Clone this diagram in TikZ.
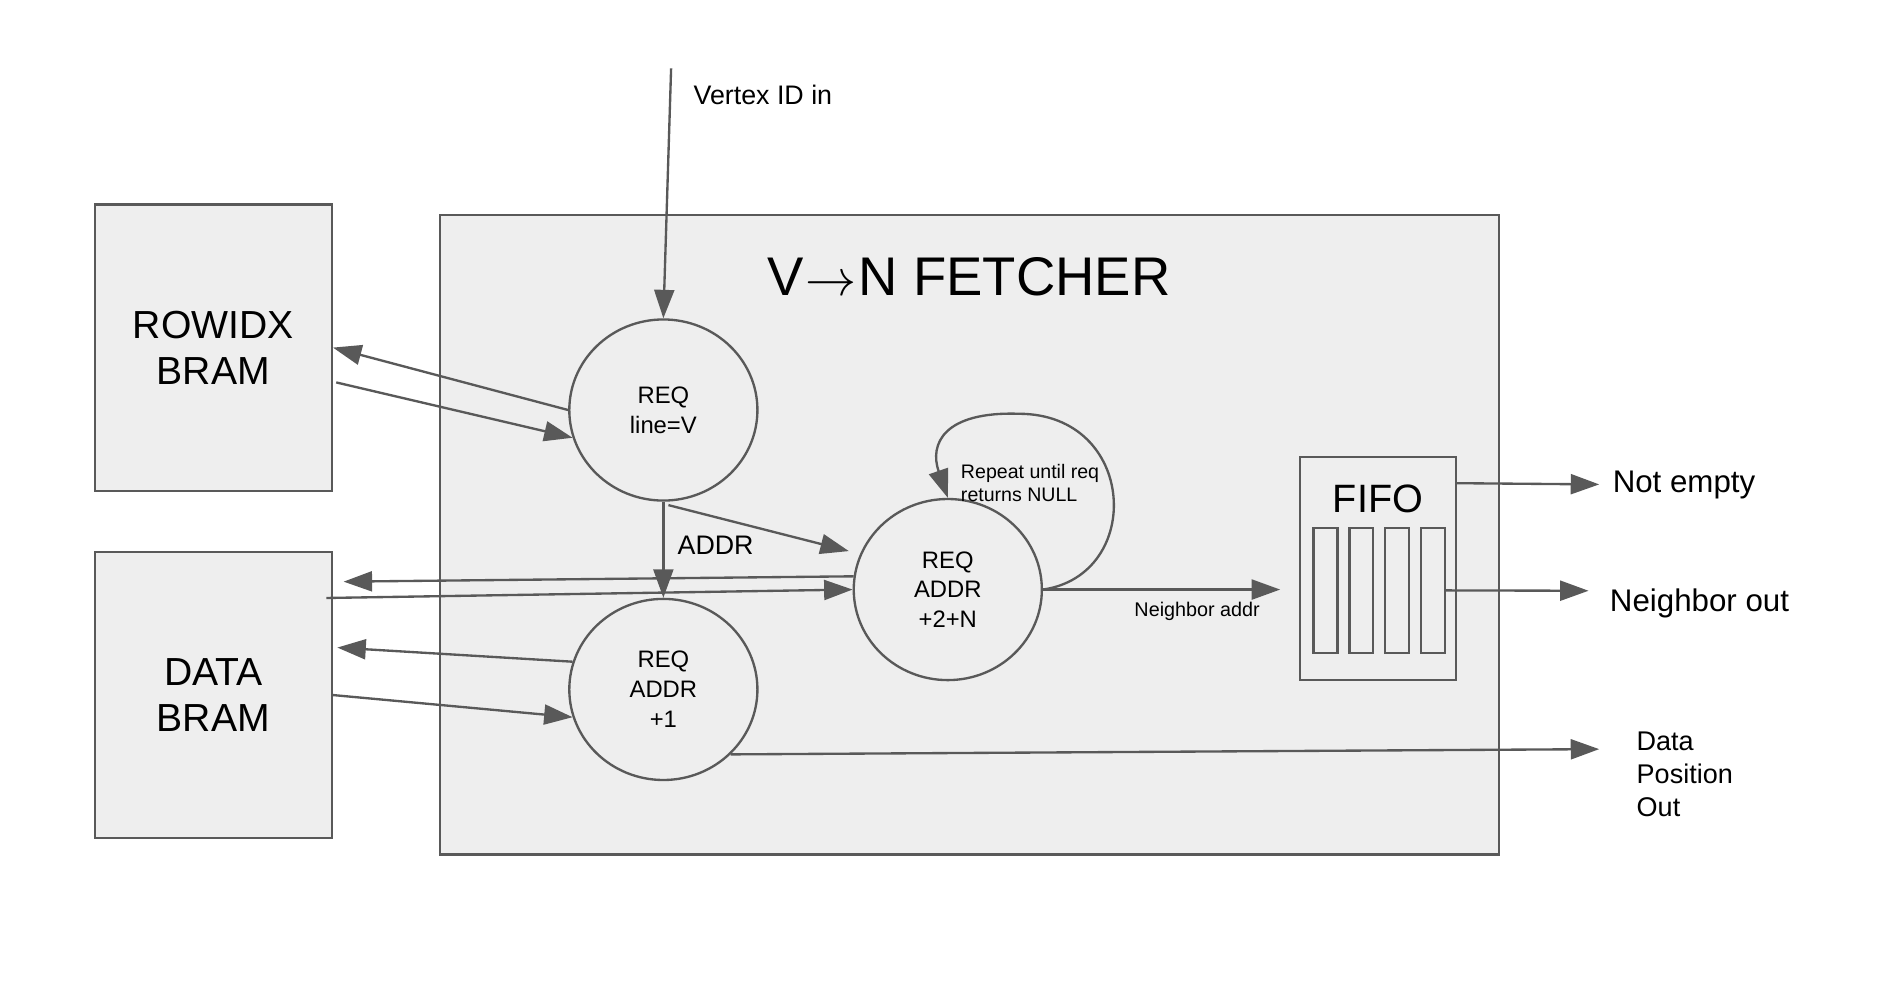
\documentclass[tikz,border=0pt]{standalone}
\usepackage{fontspec}
\setmainfont{Liberation Sans}
\usepackage{tikz}
\usetikzlibrary{positioning}
\usetikzlibrary{shapes.geometric, arrows.meta}
\definecolor{linegray}{HTML}{595959}
\definecolor{boxgray}{HTML}{EEEEEE}

\begin{document}
\begin{tikzpicture}[x=0.01cm, y=-0.01cm]
\tikzstyle{bram} = [rectangle, draw=linegray, line width=0.55pt, fill=boxgray, minimum width=1.957cm, minimum height=2.366cm, inner sep=0pt, align=center, font=\fontsize{9.2}{10.8}\selectfont]
\tikzstyle{req} = [ellipse, draw=linegray, line width=0.55pt, fill=boxgray, minimum width=1.554cm, minimum height=1.496cm, inner sep=0pt, align=center, font=\fontsize{5.6}{7}\selectfont]
\tikzstyle{slot} = [rectangle, draw=linegray, line width=0.55pt, minimum width=0.197cm, minimum height=1.03cm, inner sep=0pt]
\tikzstyle{arrow} = [draw=linegray, line width=0.55pt, -{Triangle[length=0.235cm, width=0.165cm]}]
\tikzstyle{lbl} = [inner sep=0pt, anchor=base west]

\path[use as bounding box, fill=white] (0,0) rectangle (1563,814.3);

% fetcher block
\node (fetcher) [rectangle, draw=linegray, line width=0.55pt, fill=boxgray, minimum width=8.748cm, minimum height=5.283cm] at (801.1,441.85) {};
\node (title) [anchor=base, inner sep=0pt, font=\fontsize{12.8}{15}\selectfont] at (800.9,243.9) {V\kern0.3pt$\rightarrow$\kern0.6pt N FETCHER};

% memories
\node (rowidx) [bram] at (176.35,287.3) {ROWIDX\\BRAM};
\node (data) [bram, below=0.485cm of rowidx] {DATA\\BRAM};

% request stages
\node (reqline) [req] at (548.3,338.9) {REQ\\line=V};
\node (reqone) [req, below=0.793cm of reqline] {REQ\\ADDR\\+1};
\node (reqnbr) [req] at (783.4,487.3) {REQ\\ADDR\\+2+N};

% fifo
\node (fifo) [rectangle, draw=linegray, line width=0.55pt, fill=boxgray, minimum width=1.286cm, minimum height=1.84cm] at (1139,470) {};
\node (fifolbl) [anchor=base, inner sep=0pt, font=\fontsize{9.3}{11}\selectfont] at (1139,423.5) {FIFO};
\foreach \i in {1,...,4}
  \node (slot\i) [slot] at ({1065.9+29.65*\i},488) {};

% input
\coordinate (vin) at (554.7,56.5);
\draw [arrow] (vin) -- (reqline.north);
\node (vinlbl) [lbl, font=\fontsize{6.3}{7.5}\selectfont] at (572.6,86) {Vertex ID in};

% rowidx requests
\draw [arrow] (reqline.west) -- (rowidx.east);
\draw [arrow] ([shift={(2.7,28.8)}]rowidx.east) -- (reqline.197);

% address paths
\draw [arrow] (reqline.south) -- (reqone.north);
\node (addrlbl) [lbl, font=\fontsize{6.3}{7.5}\selectfont] at (559.4,458) {ADDR};
\draw [arrow] ([shift={(4.2,2.8)}]reqline.south) -- ([shift={(-3.1,-31.8)}]reqnbr.west);

% data requests
\draw [arrow] (reqnbr.172) -- ([shift={(8.8,25.6)}]data.north east);
\draw [arrow] ([shift={(-5.5,39.1)}]data.north east) -- (reqnbr.west);
\draw [arrow] (reqone.163) -- ([shift={(3.6,-39.25)}]data.east);
\draw [arrow] (data.east) -- (reqone.197);

% repeat loop
\coordinate (looptop) at (842,342);
\draw [arrow] (reqnbr.east) .. controls +(84,-12.3) and +(98,0) .. (looptop) .. controls +(-62,-2) and +(-15.4,-44.5) .. (reqnbr.north);
\node (looplbl) [inner sep=0pt, anchor=north west, align=left, font=\fontsize{4.6}{5.5}\selectfont] at (793.6,383) {Repeat until req\\returns NULL};

% neighbor address into fifo
\coordinate (naddrend) at (1058.1,487.3);
\draw [arrow] (reqnbr.east) -- (naddrend);
\node (naddrlbl) [lbl, font=\fontsize{4.65}{5.5}\selectfont] at (937,509.8) {Neighbor addr};

% outputs
\coordinate (neend) at (1321.8,400.4);
\draw [arrow] ([shift={(0,22.4)}]fifo.north east) -- (neend);
\node (nelbl) [lbl, font=\fontsize{7.35}{9}\selectfont] at (1332.3,407.3) {Not empty};

\coordinate (noend) at (1313,488.3);
\draw [arrow] (slot4.east) -- (noend);
\node (nolbl) [lbl, font=\fontsize{7.35}{9}\selectfont] at (1330,505.6) {Neighbor out};

\coordinate (dposend) at (1321.8,619.2);
\draw [arrow] (reqone.-44) -- (dposend);
\node (dposlbl) [inner sep=0pt, anchor=north west, align=left, font=\fontsize{6.35}{7.74}\selectfont] at (1352.1,604) {Data\\Position\\Out};
\end{tikzpicture}
\end{document}
